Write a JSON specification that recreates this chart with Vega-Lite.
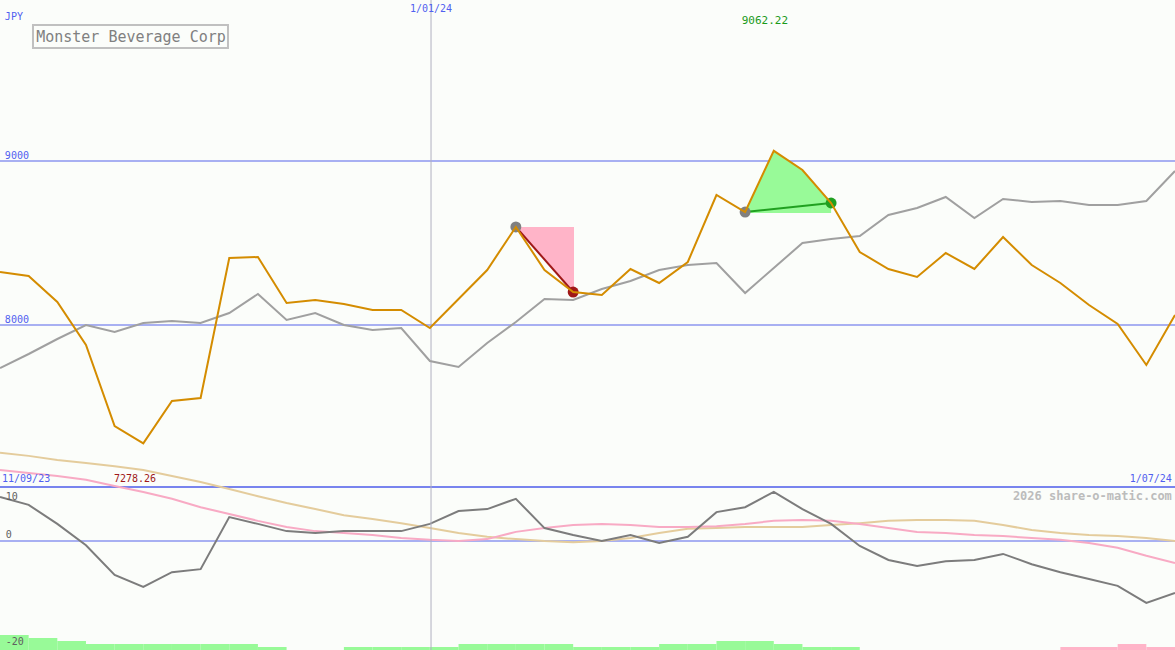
{
  "$schema": "https://vega.github.io/schema/vega-lite/v6.json",
  "width": 1175,
  "height": 650,
  "autosize": {"type": "none"},
  "padding": 0,
  "background": "#fbfdfa",
  "config": {"view": {"stroke": null}, "text": {"font": "DejaVu Sans Mono"}},
  "datasets": {
    "price": [
      {"i":0,"close":8323.2,"ma":7737.8},{"i":1,"close":8298.8,"ma":7823.2},{"i":2,"close":8140.2,"ma":7914.6},
      {"i":3,"close":7878.0,"ma":8000.0},{"i":4,"close":7384.1,"ma":7957.3},{"i":5,"close":7278.26,"ma":8012.2},
      {"i":6,"close":7536.6,"ma":8024.4},{"i":7,"close":7554.9,"ma":8012.2},{"i":8,"close":8408.5,"ma":8073.2},
      {"i":9,"close":8414.6,"ma":8189.0},{"i":10,"close":8134.1,"ma":8030.5},{"i":11,"close":8152.4,"ma":8073.2},
      {"i":12,"close":8128.0,"ma":8000.0},{"i":13,"close":8091.5,"ma":7969.5},{"i":14,"close":8091.5,"ma":7981.7},
      {"i":15,"close":7981.7,"ma":7780.5},{"i":16,"close":8158.5,"ma":7743.9},{"i":17,"close":8335.4,"ma":7890.2},
      {"i":18,"close":8597.6,"ma":8018.3},{"i":19,"close":8335.4,"ma":8158.5},{"i":20,"close":8201.2,"ma":8152.4},
      {"i":21,"close":8182.9,"ma":8219.5},{"i":22,"close":8341.5,"ma":8268.3},{"i":23,"close":8256.1,"ma":8335.4},
      {"i":24,"close":8384.1,"ma":8365.9},{"i":25,"close":8792.7,"ma":8378.0},{"i":26,"close":8689.0,"ma":8195.1},
      {"i":27,"close":9062.22,"ma":8347.6},{"i":28,"close":8945.1,"ma":8500.0},{"i":29,"close":8743.9,"ma":8524.4},
      {"i":30,"close":8445.1,"ma":8542.7},{"i":31,"close":8341.5,"ma":8670.7},{"i":32,"close":8292.7,"ma":8713.4},
      {"i":33,"close":8439.0,"ma":8780.5},{"i":34,"close":8341.5,"ma":8652.4},{"i":35,"close":8536.6,"ma":8768.3},
      {"i":36,"close":8365.9,"ma":8750.0},{"i":37,"close":8256.1,"ma":8756.1},{"i":38,"close":8122.0,"ma":8731.7},
      {"i":39,"close":8006.1,"ma":8731.7},{"i":40,"close":7756.1,"ma":8756.1},{"i":41,"close":8061.0,"ma":8939.0}
    ],
    "osc": [
      {"i":0,"macd":11.6,"tan":23.2,"pink":18.7},{"i":1,"macd":9.5,"tan":22.4,"pink":17.9},{"i":2,"macd":4.5,"tan":21.3,"pink":17.1},
      {"i":3,"macd":-1.1,"tan":20.5,"pink":16.1},{"i":4,"macd":-8.9,"tan":19.7,"pink":14.5},{"i":5,"macd":-12.1,"tan":18.7,"pink":12.9},
      {"i":6,"macd":-8.2,"tan":17.1,"pink":11.1},{"i":7,"macd":-7.4,"tan":15.5,"pink":8.9},{"i":8,"macd":6.3,"tan":13.7,"pink":7.1},
      {"i":9,"macd":4.5,"tan":11.8,"pink":5.3},{"i":10,"macd":2.6,"tan":10.0,"pink":3.7},{"i":11,"macd":2.1,"tan":8.4,"pink":2.6},
      {"i":12,"macd":2.6,"tan":6.8,"pink":2.1},{"i":13,"macd":2.6,"tan":5.8,"pink":1.6},{"i":14,"macd":2.6,"tan":4.7,"pink":0.8},
      {"i":15,"macd":4.5,"tan":3.4,"pink":0.3},{"i":16,"macd":7.9,"tan":2.1,"pink":0.0},{"i":17,"macd":8.4,"tan":1.1,"pink":0.5},
      {"i":18,"macd":11.1,"tan":0.5,"pink":2.4},{"i":19,"macd":3.4,"tan":0.0,"pink":3.4},{"i":20,"macd":1.6,"tan":-0.3,"pink":4.2},
      {"i":21,"macd":0.0,"tan":0.0,"pink":4.5},{"i":22,"macd":1.6,"tan":0.8,"pink":4.2},{"i":23,"macd":-0.5,"tan":2.1,"pink":3.7},
      {"i":24,"macd":1.1,"tan":3.2,"pink":3.7},{"i":25,"macd":7.6,"tan":3.4,"pink":3.9},{"i":26,"macd":8.9,"tan":3.7,"pink":4.5},
      {"i":27,"macd":12.9,"tan":3.7,"pink":5.3},{"i":28,"macd":8.4,"tan":3.7,"pink":5.5},{"i":29,"macd":4.5,"tan":4.2,"pink":5.3},
      {"i":30,"macd":-1.3,"tan":4.7,"pink":4.5},{"i":31,"macd":-5.0,"tan":5.3,"pink":3.4},{"i":32,"macd":-6.6,"tan":5.5,"pink":2.4},
      {"i":33,"macd":-5.3,"tan":5.5,"pink":2.1},{"i":34,"macd":-5.0,"tan":5.3,"pink":1.6},{"i":35,"macd":-3.4,"tan":4.2,"pink":1.3},
      {"i":36,"macd":-6.1,"tan":2.9,"pink":0.8},{"i":37,"macd":-8.2,"tan":2.1,"pink":0.3},{"i":38,"macd":-10.0,"tan":1.6,"pink":-0.5},
      {"i":39,"macd":-11.8,"tan":1.3,"pink":-1.8},{"i":40,"macd":-16.3,"tan":0.8,"pink":-3.9},{"i":41,"macd":-13.7,"tan":0.0,"pink":-5.8}
    ],
    "bars": [
      {"x0":0,"x1":1,"h":5,"dir":"up"},{"x0":1,"x1":2,"h":4,"dir":"up"},{"x0":2,"x1":3,"h":3,"dir":"up"},
      {"x0":3,"x1":4,"h":2,"dir":"up"},{"x0":4,"x1":5,"h":2,"dir":"up"},{"x0":5,"x1":6,"h":2,"dir":"up"},
      {"x0":6,"x1":7,"h":2,"dir":"up"},{"x0":7,"x1":8,"h":2,"dir":"up"},{"x0":8,"x1":9,"h":2,"dir":"up"},
      {"x0":9,"x1":10,"h":1,"dir":"up"},
      {"x0":12,"x1":13,"h":1,"dir":"up"},{"x0":13,"x1":14,"h":1,"dir":"up"},{"x0":14,"x1":15,"h":1,"dir":"up"},
      {"x0":15,"x1":16,"h":1,"dir":"up"},{"x0":16,"x1":17,"h":2,"dir":"up"},{"x0":17,"x1":18,"h":2,"dir":"up"},
      {"x0":18,"x1":19,"h":2,"dir":"up"},{"x0":19,"x1":20,"h":2,"dir":"up"},{"x0":20,"x1":21,"h":1,"dir":"up"},
      {"x0":21,"x1":22,"h":1,"dir":"up"},{"x0":22,"x1":23,"h":1,"dir":"up"},{"x0":23,"x1":24,"h":2,"dir":"up"},
      {"x0":24,"x1":25,"h":2,"dir":"up"},{"x0":25,"x1":26,"h":3,"dir":"up"},{"x0":26,"x1":27,"h":3,"dir":"up"},
      {"x0":27,"x1":28,"h":2,"dir":"up"},{"x0":28,"x1":29,"h":1,"dir":"up"},{"x0":29,"x1":30,"h":1,"dir":"up"},
      {"x0":37,"x1":38,"h":1,"dir":"down"},{"x0":38,"x1":39,"h":1,"dir":"down"},{"x0":39,"x1":40,"h":2,"dir":"down"},
      {"x0":40,"x1":41,"h":1,"dir":"down"}
    ],
    "fall": [
      {"i":18,"top":8597.6,"bot":8597.6},{"i":20.03,"top":8597.6,"bot":8201.2}
    ],
    "fallseg": [{"i":18,"p":8597.6},{"i":20,"p":8201.2}],
    "rise": [
      {"i":25.9,"p":8683,"base":8683},{"i":26,"p":8689.0,"base":8683},{"i":27,"p":9062.22,"base":8683},
      {"i":28,"p":8945.1,"base":8683},{"i":29,"p":8743.9,"base":8683}
    ],
    "riseseg": [{"i":26,"p":8689.0},{"i":29,"p":8743.9}],
    "marks": [
      {"i":18,"p":8597.6,"kind":"start"},{"i":20,"p":8201.2,"kind":"down"},
      {"i":26,"p":8689.0,"kind":"start"},{"i":29,"p":8743.9,"kind":"up"}
    ]
  },
  "resolve": {"scale": {"y": "independent"}},
  "layer": [
    {
      "data": {"name": "bars"},
      "layer": [
        {
          "transform": [{"filter": "datum.dir == 'up'"}],
          "mark": {"type": "rect", "color": "#98fa98"},
          "encoding": {
            "x": {"field": "x0", "type": "quantitative", "scale": {"domain": [0, 41], "nice": false, "zero": false}, "axis": null},
            "x2": {"field": "x1"},
            "y": {"field": "h", "type": "quantitative", "scale": {"domain": [0, 216.667], "nice": false, "zero": false}, "axis": null},
            "y2": {"datum": 0}
          }
        },
        {
          "transform": [{"filter": "datum.dir == 'down'"}],
          "mark": {"type": "rect", "color": "#ffb4c8"},
          "encoding": {
            "x": {"field": "x0", "type": "quantitative", "scale": {"domain": [0, 41], "nice": false, "zero": false}, "axis": null},
            "x2": {"field": "x1"},
            "y": {"field": "h", "type": "quantitative", "scale": {"domain": [0, 216.667], "nice": false, "zero": false}, "axis": null},
            "y2": {"datum": 0}
          }
        }
      ]
    },
    {
      "layer": [
        {
          "data": {"values": [{"v": 0}]},
          "mark": {"type": "rule", "color": "#a8b0f2", "strokeWidth": 2},
          "encoding": {"y": {"field": "v", "type": "quantitative", "scale": {"domain": [-28.684, 142.368], "nice": false, "zero": false}, "axis": null}}
        },
        {
          "data": {"values": [{"v": 14.21}]},
          "mark": {"type": "rule", "color": "#7884ee", "strokeWidth": 2},
          "encoding": {"y": {"field": "v", "type": "quantitative", "scale": {"domain": [-28.684, 142.368], "nice": false, "zero": false}, "axis": null}}
        },
        {
          "data": {"name": "osc"},
          "mark": {"type": "line", "color": "#e4cc9c", "strokeWidth": 2},
          "encoding": {
            "x": {"field": "i", "type": "quantitative", "scale": {"domain": [0, 41], "nice": false, "zero": false}, "axis": null},
            "y": {"field": "tan", "type": "quantitative", "scale": {"domain": [-28.684, 142.368], "nice": false, "zero": false}, "axis": null}
          }
        },
        {
          "data": {"name": "osc"},
          "mark": {"type": "line", "color": "#f8aac4", "strokeWidth": 2},
          "encoding": {
            "x": {"field": "i", "type": "quantitative", "scale": {"domain": [0, 41], "nice": false, "zero": false}, "axis": null},
            "y": {"field": "pink", "type": "quantitative", "scale": {"domain": [-28.684, 142.368], "nice": false, "zero": false}, "axis": null}
          }
        },
        {
          "data": {"name": "osc"},
          "mark": {"type": "line", "color": "#7c7c7c", "strokeWidth": 2},
          "encoding": {
            "x": {"field": "i", "type": "quantitative", "scale": {"domain": [0, 41], "nice": false, "zero": false}, "axis": null},
            "y": {"field": "macd", "type": "quantitative", "scale": {"domain": [-28.684, 142.368], "nice": false, "zero": false}, "axis": null}
          }
        },
        {
          "data": {"values": [{"i": 0.2, "v": 11.58, "t": "10"}, {"i": 0.2, "v": 1.58, "t": "0"}, {"i": 0.2, "v": -26.6, "t": "-20"}]},
          "mark": {"type": "text", "align": "left", "baseline": "middle", "fontSize": 10, "color": "#606060"},
          "encoding": {
            "x": {"field": "i", "type": "quantitative", "scale": {"domain": [0, 41], "nice": false, "zero": false}, "axis": null},
            "y": {"field": "v", "type": "quantitative", "scale": {"domain": [-28.684, 142.368], "nice": false, "zero": false}, "axis": null},
            "text": {"field": "t"}
          }
        },
        {
          "data": {"values": [{"i": 0.07, "v": 16.3, "t": "11/09/23"}]},
          "mark": {"type": "text", "align": "left", "baseline": "middle", "fontSize": 10, "color": "#5060f0"},
          "encoding": {
            "x": {"field": "i", "type": "quantitative", "scale": {"domain": [0, 41], "nice": false, "zero": false}, "axis": null},
            "y": {"field": "v", "type": "quantitative", "scale": {"domain": [-28.684, 142.368], "nice": false, "zero": false}, "axis": null},
            "text": {"field": "t"}
          }
        },
        {
          "data": {"values": [{"i": 40.89, "v": 16.3, "t": "1/07/24"}]},
          "mark": {"type": "text", "align": "right", "baseline": "middle", "fontSize": 10, "color": "#5060f0"},
          "encoding": {
            "x": {"field": "i", "type": "quantitative", "scale": {"domain": [0, 41], "nice": false, "zero": false}, "axis": null},
            "y": {"field": "v", "type": "quantitative", "scale": {"domain": [-28.684, 142.368], "nice": false, "zero": false}, "axis": null},
            "text": {"field": "t"}
          }
        },
        {
          "data": {"values": [{"i": 4.71, "v": 16.3, "t": "7278.26"}]},
          "mark": {"type": "text", "align": "center", "baseline": "middle", "fontSize": 10, "color": "#a01818"},
          "encoding": {
            "x": {"field": "i", "type": "quantitative", "scale": {"domain": [0, 41], "nice": false, "zero": false}, "axis": null},
            "y": {"field": "v", "type": "quantitative", "scale": {"domain": [-28.684, 142.368], "nice": false, "zero": false}, "axis": null},
            "text": {"field": "t"}
          }
        },
        {
          "data": {"values": [{"i": 40.89, "v": 11.84, "t": "2026 share-o-matic.com"}]},
          "mark": {"type": "text", "align": "right", "baseline": "middle", "fontSize": 12, "fontWeight": "bold", "color": "#bcbcbc"},
          "encoding": {
            "x": {"field": "i", "type": "quantitative", "scale": {"domain": [0, 41], "nice": false, "zero": false}, "axis": null},
            "y": {"field": "v", "type": "quantitative", "scale": {"domain": [-28.684, 142.368], "nice": false, "zero": false}, "axis": null},
            "text": {"field": "t"}
          }
        }
      ]
    },
    {
      "layer": [
        {
          "data": {"values": [{"v": 9000}, {"v": 8000}]},
          "mark": {"type": "rule", "color": "#a8b0f2", "strokeWidth": 2},
          "encoding": {"y": {"field": "v", "type": "quantitative", "scale": {"domain": [6018.3, 9981.7], "nice": false, "zero": false}, "axis": null}}
        },
        {
          "data": {"values": [{"i": 15.04}]},
          "mark": {"type": "rule", "color": "#b0b0c0", "strokeWidth": 1},
          "encoding": {"x": {"field": "i", "type": "quantitative", "scale": {"domain": [0, 41], "nice": false, "zero": false}, "axis": null}}
        },
        {
          "data": {"name": "fall"},
          "mark": {"type": "area", "color": "#ffb4c8", "opacity": 1},
          "encoding": {
            "x": {"field": "i", "type": "quantitative", "scale": {"domain": [0, 41], "nice": false, "zero": false}, "axis": null},
            "y": {"field": "top", "type": "quantitative", "scale": {"domain": [6018.3, 9981.7], "nice": false, "zero": false}, "axis": null},
            "y2": {"field": "bot"}
          }
        },
        {
          "data": {"name": "rise"},
          "mark": {"type": "area", "color": "#98fa98", "opacity": 1},
          "encoding": {
            "x": {"field": "i", "type": "quantitative", "scale": {"domain": [0, 41], "nice": false, "zero": false}, "axis": null},
            "y": {"field": "p", "type": "quantitative", "scale": {"domain": [6018.3, 9981.7], "nice": false, "zero": false}, "axis": null},
            "y2": {"field": "base"}
          }
        },
        {
          "data": {"name": "fallseg"},
          "mark": {"type": "line", "color": "#a01818", "strokeWidth": 2},
          "encoding": {
            "x": {"field": "i", "type": "quantitative", "scale": {"domain": [0, 41], "nice": false, "zero": false}, "axis": null},
            "y": {"field": "p", "type": "quantitative", "scale": {"domain": [6018.3, 9981.7], "nice": false, "zero": false}, "axis": null}
          }
        },
        {
          "data": {"name": "riseseg"},
          "mark": {"type": "line", "color": "#20a020", "strokeWidth": 2},
          "encoding": {
            "x": {"field": "i", "type": "quantitative", "scale": {"domain": [0, 41], "nice": false, "zero": false}, "axis": null},
            "y": {"field": "p", "type": "quantitative", "scale": {"domain": [6018.3, 9981.7], "nice": false, "zero": false}, "axis": null}
          }
        },
        {
          "data": {"name": "marks"},
          "mark": {"type": "circle", "size": 120, "opacity": 1},
          "encoding": {
            "x": {"field": "i", "type": "quantitative", "scale": {"domain": [0, 41], "nice": false, "zero": false}, "axis": null},
            "y": {"field": "p", "type": "quantitative", "scale": {"domain": [6018.3, 9981.7], "nice": false, "zero": false}, "axis": null},
            "color": {"field": "kind", "type": "nominal", "scale": {"domain": ["start", "down", "up"], "range": ["#808080", "#a01818", "#20a020"]}, "legend": null}
          }
        },
        {
          "data": {"name": "price"},
          "mark": {"type": "line", "color": "#a0a0a0", "strokeWidth": 2},
          "encoding": {
            "x": {"field": "i", "type": "quantitative", "scale": {"domain": [0, 41], "nice": false, "zero": false}, "axis": null},
            "y": {"field": "ma", "type": "quantitative", "scale": {"domain": [6018.3, 9981.7], "nice": false, "zero": false}, "axis": null}
          }
        },
        {
          "data": {"name": "price"},
          "mark": {"type": "line", "color": "#d48c00", "strokeWidth": 2},
          "encoding": {
            "x": {"field": "i", "type": "quantitative", "scale": {"domain": [0, 41], "nice": false, "zero": false}, "axis": null},
            "y": {"field": "close", "type": "quantitative", "scale": {"domain": [6018.3, 9981.7], "nice": false, "zero": false}, "axis": null}
          }
        },
        {
          "data": {"values": [{"i": 0.17, "p": 9878, "t": "JPY"}, {"i": 0.17, "p": 9030.5, "t": "9000"}, {"i": 0.17, "p": 8030.5, "t": "8000"}]},
          "mark": {"type": "text", "align": "left", "baseline": "middle", "fontSize": 10, "color": "#5060f0"},
          "encoding": {
            "x": {"field": "i", "type": "quantitative", "scale": {"domain": [0, 41], "nice": false, "zero": false}, "axis": null},
            "y": {"field": "p", "type": "quantitative", "scale": {"domain": [6018.3, 9981.7], "nice": false, "zero": false}, "axis": null},
            "text": {"field": "t"}
          }
        },
        {
          "data": {"values": [{"i": 15.04, "p": 9926.8, "t": "1/01/24"}]},
          "mark": {"type": "text", "align": "center", "baseline": "middle", "fontSize": 10, "color": "#5060f0"},
          "encoding": {
            "x": {"field": "i", "type": "quantitative", "scale": {"domain": [0, 41], "nice": false, "zero": false}, "axis": null},
            "y": {"field": "p", "type": "quantitative", "scale": {"domain": [6018.3, 9981.7], "nice": false, "zero": false}, "axis": null},
            "text": {"field": "t"}
          }
        },
        {
          "data": {"values": [{"i": 26.69, "p": 9853.7, "t": "9062.22"}]},
          "mark": {"type": "text", "align": "center", "baseline": "middle", "fontSize": 11, "color": "#1a9a1a"},
          "encoding": {
            "x": {"field": "i", "type": "quantitative", "scale": {"domain": [0, 41], "nice": false, "zero": false}, "axis": null},
            "y": {"field": "p", "type": "quantitative", "scale": {"domain": [6018.3, 9981.7], "nice": false, "zero": false}, "axis": null},
            "text": {"field": "t"}
          }
        },
        {
          "data": {"values": [{"i0": 1.151, "i1": 7.955, "p0": 9829.3, "p1": 9689.0}]},
          "mark": {"type": "rect", "fill": "#fbfdfa", "stroke": "#c0c0c0", "strokeWidth": 2},
          "encoding": {
            "x": {"field": "i0", "type": "quantitative", "scale": {"domain": [0, 41], "nice": false, "zero": false}, "axis": null},
            "x2": {"field": "i1"},
            "y": {"field": "p0", "type": "quantitative", "scale": {"domain": [6018.3, 9981.7], "nice": false, "zero": false}, "axis": null},
            "y2": {"field": "p1"}
          }
        },
        {
          "data": {"values": [{"i": 4.57, "p": 9759.1, "t": "Monster Beverage Corp"}]},
          "mark": {"type": "text", "align": "center", "baseline": "middle", "fontSize": 15, "color": "#808080"},
          "encoding": {
            "x": {"field": "i", "type": "quantitative", "scale": {"domain": [0, 41], "nice": false, "zero": false}, "axis": null},
            "y": {"field": "p", "type": "quantitative", "scale": {"domain": [6018.3, 9981.7], "nice": false, "zero": false}, "axis": null},
            "text": {"field": "t"}
          }
        }
      ]
    }
  ]
}
